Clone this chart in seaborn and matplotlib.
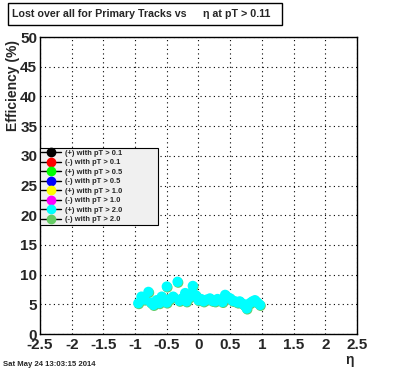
import numpy as np
import pandas as pd
import matplotlib
matplotlib.use("Agg")
import matplotlib.pyplot as plt
from matplotlib.lines import Line2D
from matplotlib.ticker import MultipleLocator, FuncFormatter
import seaborn as sns

# eta and efficiency (%)
eta_pos20 = [-0.95, -0.90, -0.85, -0.79, -0.75, -0.71, -0.66, -0.62, -0.58, -0.50, -0.50,
             -0.45, -0.40, -0.33, -0.30, -0.26, -0.21, -0.19, -0.14, -0.09, -0.09, -0.04,
             0.00, 0.04, 0.08, 0.13, 0.18, 0.22, 0.26, 0.30, 0.34, 0.38, 0.42, 0.46,
             0.50, 0.54, 0.58, 0.62, 0.65, 0.70, 0.73, 0.76, 0.81, 0.85, 0.89, 0.93, 0.97]
eff_pos20 = [5.2, 6.3, 5.8, 7.1, 5.3, 4.9, 5.7, 5.2, 6.3, 8.0, 5.3,
             5.9, 6.3, 8.8, 5.6, 6.0, 6.9, 5.5, 6.2, 8.1, 6.9, 6.5,
             5.7, 5.9, 5.5, 5.8, 6.0, 5.6, 5.5, 5.9, 5.7, 5.4, 6.6, 6.2,
             6.0, 5.6, 5.5, 5.3, 5.5, 5.1, 4.8, 4.3, 5.2, 5.5, 5.7, 5.3, 4.9]
eta_neg20 = [e + 0.01 for e in eta_pos20]
eff_neg20 = [v - 0.15 for v in eff_pos20]

labels = ["(+) with pT > 0.1", "(-) with pT > 0.1", "(+) with pT > 0.5", "(-) with pT > 0.5",
          "(+) with pT > 1.0", "(-) with pT > 1.0", "(+) with pT > 2.0", "(-) with pT > 2.0"]
colors = ["black", "red", "#00ff00", "blue", "yellow", "magenta", "cyan", "#66cc66"]

df = pd.concat([
    pd.DataFrame({"eta": eta_neg20, "eff": eff_neg20, "series": labels[7]}),
    pd.DataFrame({"eta": eta_pos20, "eff": eff_pos20, "series": labels[6]}),
], ignore_index=True)

sns.set_style("white")
plt.rcParams["font.family"] = ["Liberation Sans", "DejaVu Sans"]
plt.rcParams["font.weight"] = "bold"

fig = plt.figure(figsize=(3.96, 3.72), dpi=100)
ax = fig.add_axes([0.101, 0.102, 0.8005, 0.7985])

sns.scatterplot(data=df, x="eta", y="eff", hue="series",
                palette={labels[6]: colors[6], labels[7]: colors[7]},
                s=55, linewidth=0, legend=False, ax=ax)

fmt = FuncFormatter(lambda v, pos: f"{v:g}")
ax.xaxis.set_major_locator(MultipleLocator(0.5))
ax.xaxis.set_minor_locator(MultipleLocator(0.1))
ax.yaxis.set_major_locator(MultipleLocator(5))
ax.yaxis.set_minor_locator(MultipleLocator(1))
ax.xaxis.set_major_formatter(fmt)
ax.yaxis.set_major_formatter(fmt)
ax.tick_params(which="both", direction="in", top=False, right=False, labelsize=11)
ax.tick_params(which="major", length=8, width=0.8)
ax.tick_params(which="minor", length=4, width=0.8)
ax.tick_params(axis="x", pad=3)
ax.tick_params(axis="y", pad=2)
ax.set_xlim(-2.5, 2.5)
ax.set_ylim(0, 50)
for lab in ax.get_xticklabels() + ax.get_yticklabels():
    lab.set_fontweight("bold")
ax.grid(True, which="major", linestyle=(0, (1, 3)), color="black", linewidth=0.8)
for sp in ax.spines.values():
    sp.set_color("black")
    sp.set_linewidth(1)
ax.set_xlabel("")
ax.set_ylabel("")

fig.text(350 / 396, 1 - 360 / 372, "η", fontsize=10, ha="center", va="center")
fig.text(13 / 396, 1 - 40 / 372, "Efficiency (%)", fontsize=10, fontweight="bold",
         rotation=90, ha="center", va="top")

fig.text(12 / 396, 1 - 14 / 372, "Lost over all for Primary Tracks vs", fontsize=7.7,
         fontweight="bold", va="center")
fig.text(203 / 396, 1 - 14 / 372, "η at pT > 0.11", fontsize=7.7,
         fontweight="bold", va="center")
fig.patches.append(plt.Rectangle((8 / 396, 1 - 25 / 372), 274 / 396, 22 / 372,
                                 transform=fig.transFigure, fill=False,
                                 edgecolor="black", linewidth=1))

fig.text(3 / 396, 1 - 365 / 372, "Sat May 24 13:03:15 2014", fontsize=5.6,
         fontweight="bold", va="center")

handles = [Line2D([0], [0], color="black", lw=1, marker="o", markersize=6,
                  markerfacecolor=c, markeredgecolor=c) for c in colors]
leg = ax.legend(handles, labels, loc="upper left", mode="expand",
                bbox_to_anchor=(0.0, 0.374, 0.372, 0.252),
                prop={"size": 5.4, "weight": "bold"}, frameon=True, fancybox=False,
                handlelength=2.6, borderpad=0.2, labelspacing=0.3, handletextpad=0.6,
                borderaxespad=0)
leg.get_frame().set_facecolor("#f0f0f0")
leg.get_frame().set_edgecolor("black")
leg.get_frame().set_linewidth(0.8)
leg.get_frame().set_alpha(1)

fig.savefig("out.png", dpi=100)
